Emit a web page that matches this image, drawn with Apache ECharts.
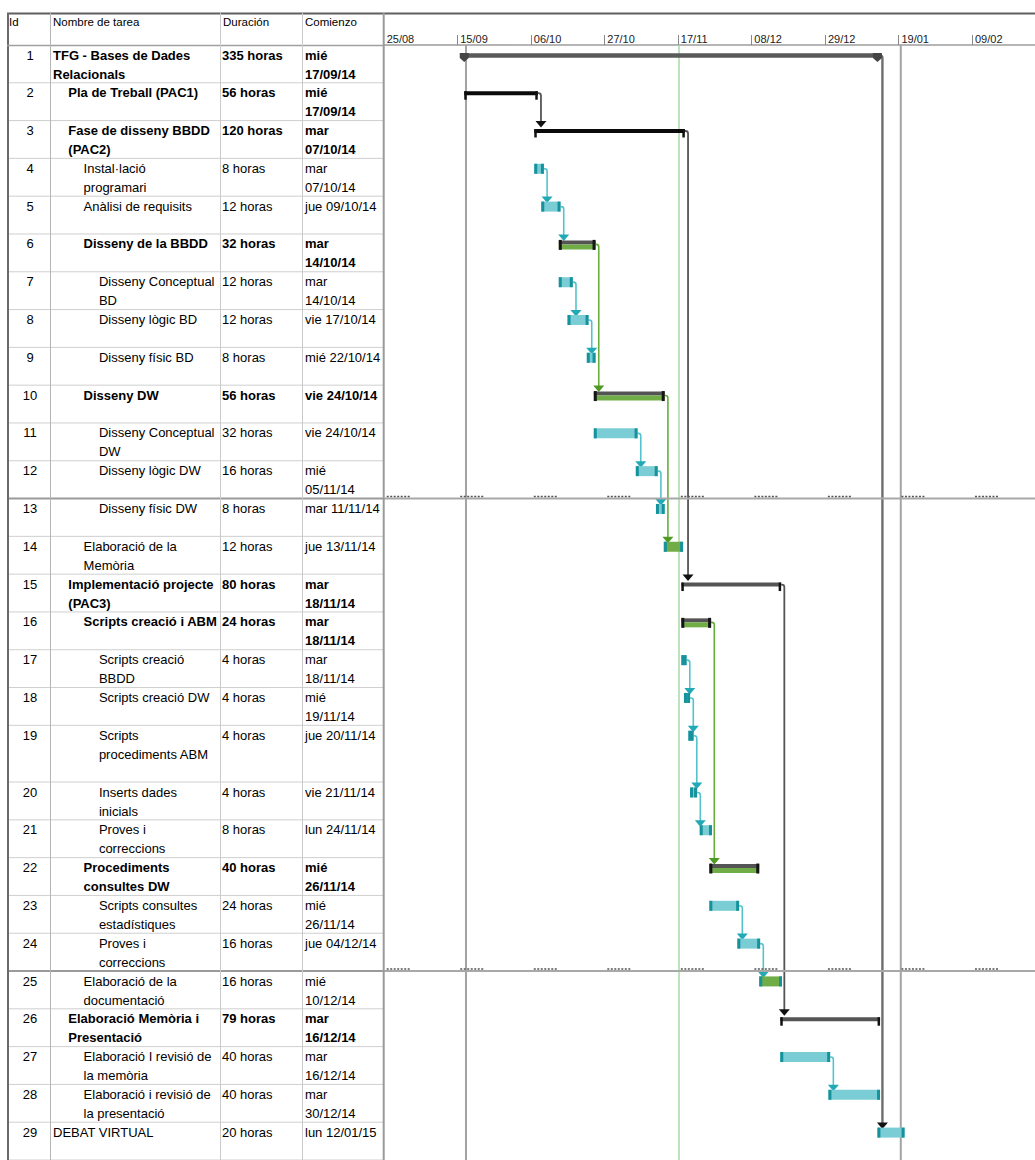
<!DOCTYPE html>
<html><head><meta charset="utf-8">
<script src="https://cdn.jsdelivr.net/npm/echarts@6/dist/echarts.min.js"></script>
<style>html,body{margin:0;padding:0;background:#fff}#c{width:1035px;height:1160px}</style>
</head><body><div id="c"></div><script>
// ================= DATA =================
const HEADER_LABELS = ['Id', 'Nombre de tarea', 'Duración', 'Comienzo'];
const TASK_IDS = [1,2,3,4,5,6,7,8,9,10,11,12,13,14,15,16,17,18,19,20,21,22,23,24,25,26,27,28,29];
const TASK_NAMES = [
  'TFG - Bases de Dades\nRelacionals', 'Pla de Treball (PAC1)', 'Fase de disseny BBDD\n(PAC2)',
  'Instal·lació\nprogramari', 'Anàlisi de requisits', 'Disseny de la BBDD', 'Disseny Conceptual\nBD',
  'Disseny lògic BD', 'Disseny físic BD', 'Disseny DW', 'Disseny Conceptual\nDW', 'Disseny lògic DW',
  'Disseny físic DW', 'Elaboració de la\nMemòria', 'Implementació projecte\n(PAC3)', 'Scripts creació i ABM',
  'Scripts creació\nBBDD', 'Scripts creació DW', 'Scripts\nprocediments ABM', 'Inserts dades\ninicials',
  'Proves i\ncorreccions', 'Procediments\nconsultes DW', 'Scripts consultes\nestadístiques', 'Proves i\ncorreccions',
  'Elaboració de la\ndocumentació', 'Elaboració Memòria i\nPresentació', 'Elaboració I revisió de\nla memòria',
  'Elaboració i revisió de\nla presentació', 'DEBAT VIRTUAL'];
const DURATIONS = ['335 horas','56 horas','120 horas','8 horas','12 horas','32 horas','12 horas','12 horas','8 horas',
  '56 horas','32 horas','16 horas','8 horas','12 horas','80 horas','24 horas','4 horas','4 horas','4 horas','4 horas',
  '8 horas','40 horas','24 horas','16 horas','16 horas','79 horas','40 horas','40 horas','20 horas'];
const START_LABELS = ['mié\n17/09/14','mié\n17/09/14','mar\n07/10/14','mar\n07/10/14','jue 09/10/14','mar\n14/10/14',
  'mar\n14/10/14','vie 17/10/14','mié 22/10/14','vie 24/10/14','vie 24/10/14','mié\n05/11/14','mar 11/11/14',
  'jue 13/11/14','mar\n18/11/14','mar\n18/11/14','mar\n18/11/14','mié\n19/11/14','jue 20/11/14','vie 21/11/14',
  'lun 24/11/14','mié\n26/11/14','mié\n26/11/14','jue 04/12/14','mié\n10/12/14','mar\n16/12/14','mar\n16/12/14',
  'mar\n30/12/14','lun 12/01/15'];
const OUTLINE_LEVELS = [1,2,2,3,3,3,4,4,4,3,4,4,4,3,2,3,4,4,4,4,4,3,4,4,3,2,3,3,1];
const TASK_KINDS = ['project','phase','phase','task','task','group','task','task','task','group','task','task','task',
  'doc','phase','group','task','task','task','task','task','group','task','task','doc','phase','task','task','task'];
const BAR_START = ['2014-09-17','2014-09-17','2014-10-07','2014-10-07','2014-10-09','2014-10-14','2014-10-14',
  '2014-10-16T12','2014-10-22','2014-10-24','2014-10-24','2014-11-05','2014-11-10T18','2014-11-13','2014-11-18',
  '2014-11-18','2014-11-18','2014-11-18T18','2014-11-20','2014-11-20T12','2014-11-23T06','2014-11-26','2014-11-26',
  '2014-12-04','2014-12-10T06','2014-12-16T06','2014-12-16T06','2014-12-30','2015-01-13'];
const BAR_END = ['2015-01-13','2014-10-08','2014-11-19','2014-10-09T18','2014-10-14T12','2014-10-24T12','2014-10-18',
  '2014-10-22T12','2014-10-24T12','2014-11-13T06','2014-11-05T12','2014-11-11T06','2014-11-13T06','2014-11-18T12',
  '2014-12-16T12','2014-11-26T12','2014-11-19T12','2014-11-20T12','2014-11-21T12','2014-11-22T12','2014-11-26T18',
  '2014-12-10T06','2014-12-04T12','2014-12-10T12','2014-12-16T18','2015-01-13T18','2014-12-30T12','2015-01-13T18',
  '2015-01-20T18'];
const LINKS = [[1,29],[2,3],[3,15],[4,5],[5,6],[6,10],[7,8],[8,9],[10,14],[11,12],[12,13],[15,26],[16,22],
  [17,18],[18,19],[19,20],[20,21],[23,24],[24,25],[27,28]];
const MARKER_DATES = ['2014-09-17T12', '2014-11-17T08', '2015-01-19T16'];
const MARKER_KINDS = ['projectStart', 'statusDate', 'projectLine'];
const AXIS_ORIGIN = '2014-08-25';
const AXIS_END = '2015-02-27';
const TICK_STEP_DAYS = 21;

// ================= LAYOUT / STYLE =================
const FONT = '"Liberation Sans", Arial, sans-serif';
const TABLE_LEFT = 7, TABLE_W = 376.7, GRID_TOP = 45, GRID_H = 1115, CHART_W = 1035;
const COL_EDGES = [0, 43, 213, 295, TABLE_W];
const TALL_ROWS = {19: 3};
const SEAM_AFTER = new Set([12, 24]);
const DARK_PHASE = new Set([15, 26]);
const BAR_OFF = 0.55;

function dayOf(s) {
  const parts = s.split('T');
  const d = parts[0].split('-').map(Number);
  const h = parts[1] ? parseInt(parts[1], 10) : 0;
  const o = AXIS_ORIGIN.split('-').map(Number);
  return (Date.UTC(d[0], d[1] - 1, d[2], h) - Date.UTC(o[0], o[1] - 1, o[2])) / 864e5;
}
const ROW_LINES = TASK_IDS.map(id => TALL_ROWS[id] || 2);
const ROW_TOP = [];
let acc = 0;
ROW_LINES.forEach(n => { ROW_TOP.push(acc); acc += n; });
const TOTAL_LINES = acc;
const isBold = k => k === 'project' || k === 'phase' || k === 'group';
const pad = n => (n < 10 ? '0' : '') + n;

const chart = echarts.init(document.getElementById('c'), null, {renderer: 'svg', width: 1035, height: 1160});

function renderTable(params, api) {
  const i = api.value(0);
  const top = ROW_TOP[i], bot = top + ROW_LINES[i];
  const pT = api.coord([0, top]);
  const pB = api.coord([TABLE_W, bot]);
  const cx = c => api.coord([COL_EDGES[c], top])[0];
  const bold = isBold(TASK_KINDS[i]);
  const fw = bold ? 'bold' : 'normal';
  const ty = pT[1] + 0.5;
  const txt = (text, x, align, weight) => ({
    type: 'text',
    style: {text, x, y: ty, fill: '#000', fontFamily: FONT, fontSize: 13, fontWeight: weight,
      align: align, verticalAlign: 'top', lineHeight: 19}
  });
  const seam = SEAM_AFTER.has(TASK_IDS[i]);
  return {type: 'group', children: [
    {type: 'line', shape: {x1: pT[0], y1: pB[1], x2: pB[0], y2: pB[1]},
      style: {stroke: seam ? '#9a9a9a' : '#cfcfcf', lineWidth: seam ? 2 : 1}},
    txt(String(TASK_IDS[i]), cx(0) + 23, 'center', 'normal'),
    txt(TASK_NAMES[i], cx(1) + 3 + (OUTLINE_LEVELS[i] - 1) * 15.3, 'left', fw),
    txt(DURATIONS[i], cx(2) + 2, 'left', fw),
    txt(START_LABELS[i], cx(3) + 3, 'left', fw)
  ]};
}

function rect(x, y, w, h, fill) {
  return {type: 'rect', shape: {x, y, width: Math.max(w, 0.5), height: h}, style: {fill}};
}

function renderBar(params, api) {
  const i = api.value(0);
  const s = api.value(1), e = api.value(2);
  const yc = ROW_TOP[i] + BAR_OFF;
  const p0 = api.coord([s, yc]);
  const x0 = p0[0], y = p0[1], x1 = api.coord([e, yc])[0];
  const k = TASK_KINDS[i];
  const ch = [];
  if (k === 'task' || k === 'doc') {
    ch.push(rect(x0, y - 5, x1 - x0, 10, k === 'task' ? '#7bcdd5' : '#70ad47'));
    ch.push(rect(x0, y - 5, 3, 10, '#16929d'));
    ch.push(rect(x1 - 3, y - 5, 3, 10, '#16929d'));
  } else if (k === 'group') {
    ch.push(rect(x0, y - 4, x1 - x0, 4, '#545454'));
    ch.push(rect(x0, y, x1 - x0, 5, '#70ad47'));
    ch.push(rect(x0, y - 4.5, 3, 10, '#151515'));
    ch.push(rect(x1 - 3, y - 4.5, 3, 10, '#151515'));
  } else if (k === 'phase') {
    const c = DARK_PHASE.has(TASK_IDS[i]) ? '#555555' : '#0a0a0a';
    ch.push(rect(x0, y - 2, x1 - x0, 4, c));
    ch.push(rect(x0, y - 2, 2.5, 8.5, '#111'));
    ch.push(rect(x1 - 2.5, y - 2, 2.5, 8.5, '#111'));
  } else if (k === 'project') {
    ch.push(rect(x0, y - 2.2, x1 - x0, 4.5, '#5a5a5a'));
    [x0, x1].forEach(x => ch.push({type: 'polygon',
      shape: {points: [[x - 4.5, y - 2.5], [x + 4.5, y - 2.5], [x + 4.5, y + 2.5], [x, y + 6.5], [x - 4.5, y + 2.5]]},
      style: {fill: '#454545'}}));
  }
  if (SEAM_AFTER.has(TASK_IDS[i])) {
    const cs = params.coordSys;
    const sy = api.coord([0, ROW_TOP[i] + ROW_LINES[i]])[1];
    ch.push({type: 'line', shape: {x1: cs.x, y1: sy, x2: cs.x + cs.width, y2: sy},
      style: {stroke: '#a8a8a8', lineWidth: 2}});
    for (let d = 0; d <= dayOf(AXIS_END) - 10; d += TICK_STEP_DAYS) {
      const tx = api.coord([d, 0])[0];
      ch.push({type: 'line', shape: {x1: tx + 3, y1: sy - 2, x2: tx + 26, y2: sy - 2},
        style: {stroke: '#555', lineWidth: 1.5, lineDash: [2, 1.5]}});
    }
  }
  return {type: 'group', children: ch};
}

function renderLink(params, api) {
  const a = api.value(0), b = api.value(1);
  const ka = TASK_KINDS[a];
  const pa = api.coord([dayOf(BAR_END[a]), ROW_TOP[a] + BAR_OFF]);
  const yb = api.coord([0, ROW_TOP[b] + BAR_OFF])[1];
  const gap = ka === 'project' ? 5 : 3.2;
  const xe = pa[0], ya = pa[1], xt = xe + gap;
  let stroke, arrow, lw;
  if (ka === 'task' || ka === 'doc') { stroke = '#55c3ce'; arrow = '#22a9b6'; lw = 1.6; }
  else if (ka === 'group') { stroke = '#68ad3c'; arrow = '#4f9a22'; lw = 1.6; }
  else if (ka === 'project') { stroke = '#6e6e6e'; arrow = '#111'; lw = 2.4; }
  else { stroke = '#555'; arrow = '#111'; lw = 1.8; }
  const path = 'M' + xe + ' ' + ya + 'L' + (xt - 2.5) + ' ' + ya + 'Q' + xt + ' ' + ya + ' ' + xt + ' ' + (ya + 2.5) +
    'L' + xt + ' ' + (yb - 9);
  return {type: 'group', children: [
    {type: 'path', shape: {pathData: path}, style: {stroke, lineWidth: lw, fill: null}},
    {type: 'polygon', shape: {points: [[xt - 5.5, yb - 10], [xt + 5.5, yb - 10], [xt, yb - 3.5]]}, style: {fill: arrow}}
  ]};
}

function renderMarker(params, api) {
  const x = api.coord([api.value(0), 0])[0];
  const cs = params.coordSys;
  const green = MARKER_KINDS[api.value(1)] === 'statusDate';
  return {type: 'line', shape: {x1: x, y1: cs.y, x2: x, y2: cs.y + cs.height},
    style: {stroke: green ? '#a9d8a6' : '#a3a3a3', lineWidth: green ? 1.5 : 2}};
}

const graphic = [
  {type: 'line', shape: {x1: 7, y1: 13.5, x2: CHART_W, y2: 13.5}, style: {stroke: '#5f5f5f', lineWidth: 2}, z: 20},
  {type: 'line', shape: {x1: 8, y1: 13, x2: 8, y2: 1160}, style: {stroke: '#6a6a6a', lineWidth: 2}, z: 20},
  {type: 'line', shape: {x1: 7, y1: 45.5, x2: TABLE_LEFT + TABLE_W, y2: 45.5}, style: {stroke: '#a0a0a0', lineWidth: 1.5}, z: 20},
  {type: 'line', shape: {x1: 383.7, y1: 13, x2: 383.7, y2: 1160}, style: {stroke: '#9a9a9a', lineWidth: 2}, z: 20}
];
[1, 2, 3].forEach(c => {
  const x = TABLE_LEFT + COL_EDGES[c] + 0.5;
  graphic.push({type: 'line', shape: {x1: x, y1: 13, x2: x, y2: 1160},
    style: {stroke: c === 1 ? '#b5b5b5' : '#cacaca', lineWidth: 1}, z: 20});
});
HEADER_LABELS.forEach((t, c) => {
  graphic.push({type: 'text', x: TABLE_LEFT + COL_EDGES[c] + (c === 0 ? 2 : 3), y: 16,
    style: {text: t, fill: '#000', fontFamily: FONT, fontSize: 11.5, verticalAlign: 'top'}, z: 20});
});

const originMs = (() => { const o = AXIS_ORIGIN.split('-').map(Number); return Date.UTC(o[0], o[1] - 1, o[2]); })();

chart.setOption({
  animation: false,
  backgroundColor: '#fff',
  grid: [
    {left: TABLE_LEFT, top: GRID_TOP, width: TABLE_W, height: GRID_H},
    {left: TABLE_LEFT + TABLE_W, top: GRID_TOP, width: CHART_W - TABLE_LEFT - TABLE_W, height: GRID_H}
  ],
  xAxis: [
    {gridIndex: 0, type: 'value', min: 0, max: TABLE_W, show: false},
    {gridIndex: 1, type: 'value', position: 'top', min: 0, max: dayOf(AXIS_END), interval: TICK_STEP_DAYS,
      axisLine: {show: true, lineStyle: {color: '#9c9c9c', width: 1.5}},
      axisTick: {show: true, length: 10, lineStyle: {color: '#888', width: 1}},
      splitLine: {show: false},
      axisLabel: {show: true, showMaxLabel: false, align: 'left', margin: 1, padding: [0, 0, 0, 3],
        fontFamily: FONT, fontSize: 11, color: '#222',
        formatter: v => { const d = new Date(originMs + v * 864e5); return pad(d.getUTCDate()) + '/' + pad(d.getUTCMonth() + 1); }}}
  ],
  yAxis: [
    {gridIndex: 0, type: 'value', inverse: true, min: 0, max: TOTAL_LINES, show: false},
    {gridIndex: 1, type: 'value', inverse: true, min: 0, max: TOTAL_LINES, show: false}
  ],
  graphic: graphic,
  series: [
    {type: 'custom', xAxisIndex: 0, yAxisIndex: 0, clip: true, z: 5, renderItem: renderTable,
      data: TASK_IDS.map((_, i) => [i]), silent: true},
    {type: 'custom', xAxisIndex: 1, yAxisIndex: 1, z: 2, renderItem: renderMarker,
      data: MARKER_DATES.map((d, i) => [dayOf(d), i]), silent: true},
    {type: 'custom', xAxisIndex: 1, yAxisIndex: 1, z: 3, renderItem: renderLink,
      data: LINKS.map(l => [l[0] - 1, l[1] - 1]), silent: true},
    {type: 'custom', xAxisIndex: 1, yAxisIndex: 1, z: 4, renderItem: renderBar, encode: {x: [1, 2]},
      data: TASK_IDS.map((_, i) => [i, dayOf(BAR_START[i]), dayOf(BAR_END[i])]), silent: true}
  ]
});
</script></body></html>
